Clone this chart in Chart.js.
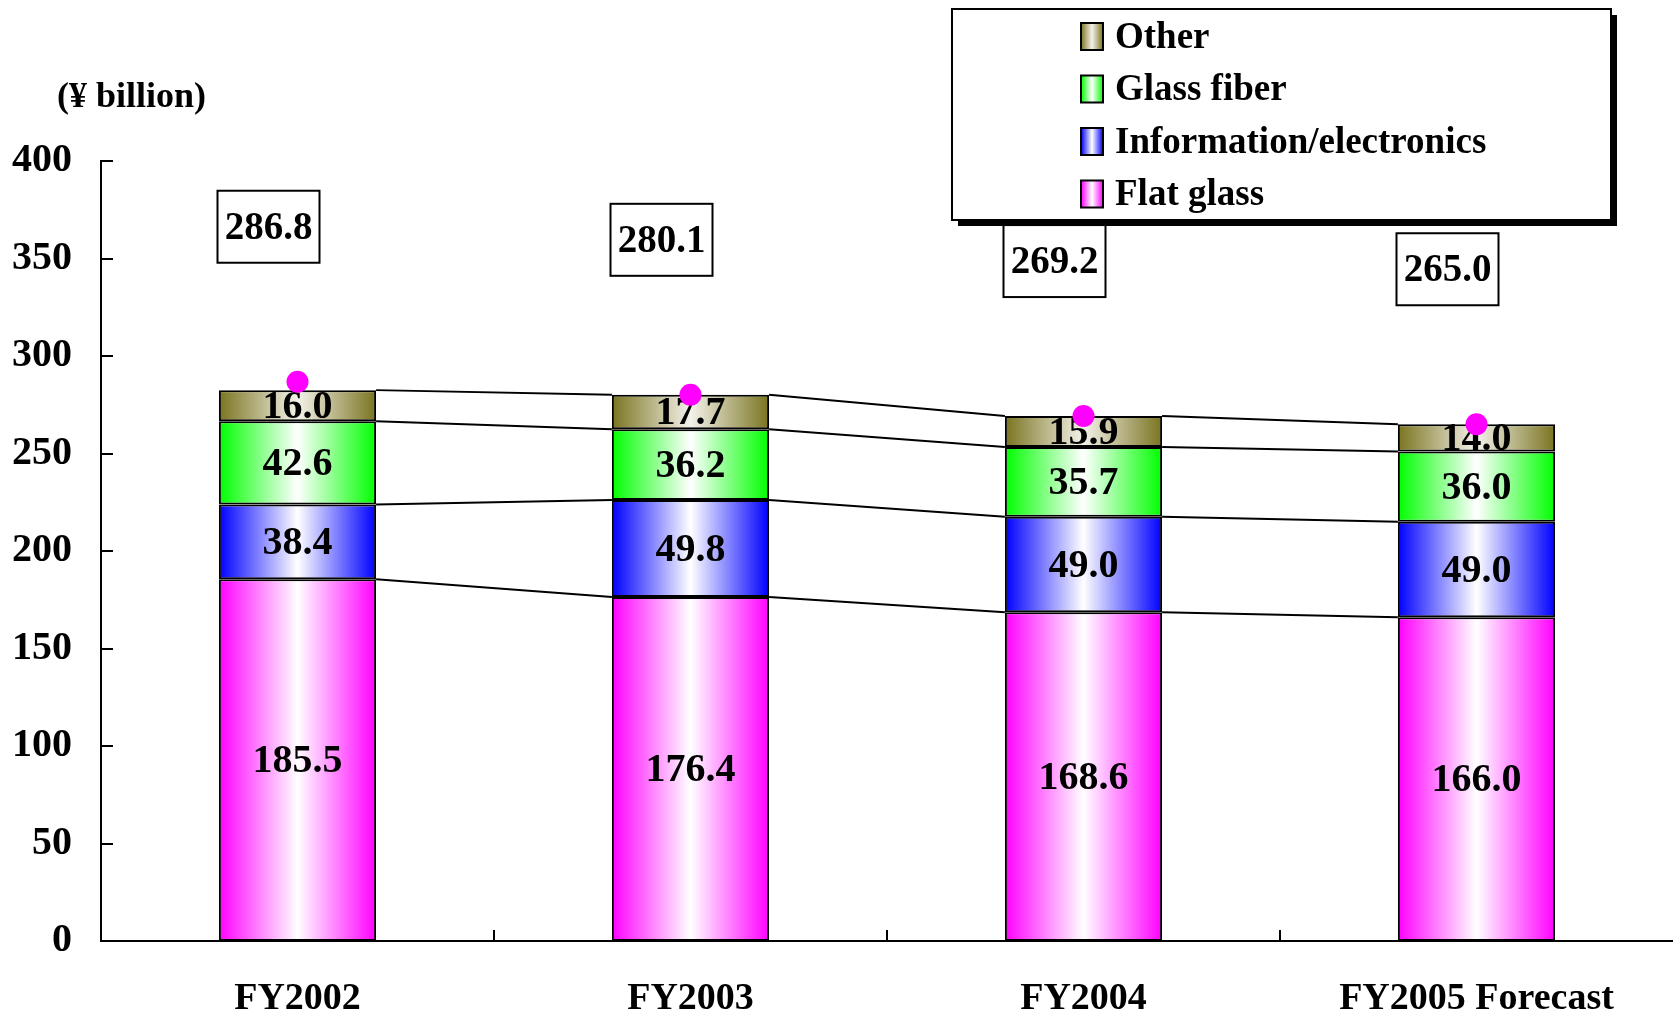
<!DOCTYPE html>
<html>
<head>
<meta charset="utf-8">
<script src="https://cdn.jsdelivr.net/npm/chart.js@4.4.1/dist/chart.umd.min.js"></script>
<style>
html, body { margin: 0; padding: 0; background: #fff; overflow: hidden; }
canvas { display: block; }
</style>
</head>
<body>
<canvas id="myChart" width="1673" height="1014"></canvas>
<script>
// data (¥ billion)
var years = ['FY2002', 'FY2003', 'FY2004', 'FY2005 Forecast'];
var flatGlass = [185.5, 176.4, 168.6, 166.0];
var infoElec = [38.4, 49.8, 49.0, 49.0];
var glassFiber = [42.6, 36.2, 35.7, 36.0];
var other = [16.0, 17.7, 15.9, 14.0];
var totals = [286.8, 280.1, 269.2, 265.0];

var FONT = "'Liberation Serif', 'Times New Roman', serif";
var BAR_PCT = 0.4;

// horizontal gradient: colour at the edges, white in the middle
function makeGrad(ctx2d, x0, x1, color, light) {
	var g = ctx2d.createLinearGradient(x0, 0, x1, 0);
	g.addColorStop(0, color);
	g.addColorStop(0.5, light);
	g.addColorStop(1, color);
	return g;
}

function barFill(color, light) {
	return function(c) {
		var chart = c.chart;
		var x = chart.scales && chart.scales.x;
		if (!x || c.dataIndex === undefined) return color;
		var cx = x.getPixelForValue(c.dataIndex);
		var w = (x.width / years.length) * BAR_PCT;
		if (!isFinite(cx) || !isFinite(w) || w <= 0) return color;
		return makeGrad(chart.ctx, cx - w / 2, cx + w / 2, color, light);
	};
}

var series = [
	{ label: 'Flat glass', data: flatGlass, color: '#ff00ff', light: '#ffffff' },
	{ label: 'Information/electronics', data: infoElec, color: '#0000ff', light: '#ffffff' },
	{ label: 'Glass fiber', data: glassFiber, color: '#00ff00', light: '#ffffff' },
	{ label: 'Other', data: other, color: '#7a7420', light: '#f4f2ea' }
];

var datasets = series.map(function(s) {
	return {
		type: 'bar',
		label: s.label,
		data: s.data,
		backgroundColor: barFill(s.color, s.light),
		borderColor: '#000',
		borderWidth: 2,
		borderSkipped: false,
		categoryPercentage: 1,
		barPercentage: BAR_PCT,
		order: 1,
		stack: 'seg'
	};
});

datasets.push({
	type: 'line',
	label: 'Total',
	data: totals,
	showLine: false,
	pointRadius: 11,
	pointHoverRadius: 11,
	pointBackgroundColor: '#ff00ff',
	pointBorderWidth: 0,
	borderColor: '#ff00ff',
	order: 0,
	stack: 'total'
});

var decor = {
	id: 'decor',
	beforeDatasetsDraw: function(chart) {
		// connecting lines between stack boundaries
		var ctx = chart.ctx;
		ctx.save();
		ctx.strokeStyle = '#000';
		ctx.lineWidth = 2;
		for (var d = 0; d < series.length; d++) {
			var bars = chart.getDatasetMeta(d).data;
			for (var i = 0; i < bars.length - 1; i++) {
				var a = bars[i], b = bars[i + 1];
				ctx.beginPath();
				ctx.moveTo(a.x + a.width / 2, a.y);
				ctx.lineTo(b.x - b.width / 2, b.y);
				ctx.stroke();
			}
		}
		ctx.restore();
	},
	afterDatasetDraw: function(chart, args) {
		// segment values, drawn once the last bar dataset is done (under the dots)
		if (args.index !== 0) return;
		var ctx = chart.ctx;
		ctx.save();
		ctx.fillStyle = '#000';
		ctx.font = 'bold 40px ' + FONT;
		ctx.textAlign = 'center';
		ctx.textBaseline = 'middle';
		for (var d = 0; d < series.length; d++) {
			chart.getDatasetMeta(d).data.forEach(function(bar, i) {
				ctx.fillText(series[d].data[i].toFixed(1), bar.x, (bar.y + bar.base) / 2 + 2);
			});
		}
		ctx.restore();
	},
	afterDatasetsDraw: function(chart) {
		// total boxes
		var ctx = chart.ctx;
		var pts = chart.getDatasetMeta(series.length).data;
		ctx.save();
		ctx.font = 'bold 39px ' + FONT;
		ctx.textAlign = 'center';
		ctx.textBaseline = 'middle';
		pts.forEach(function(p, i) {
			var cx = p.x - 29, cy = p.y - 155;
			ctx.fillStyle = '#fff';
			ctx.fillRect(cx - 51, cy - 36, 102, 72);
			ctx.strokeStyle = '#000';
			ctx.lineWidth = 2;
			ctx.strokeRect(cx - 51, cy - 36, 102, 72);
			ctx.fillStyle = '#000';
			ctx.fillText(totals[i].toFixed(1), cx, cy + 2);
		});
		ctx.restore();
	},
	afterDraw: function(chart) {
		var ctx = chart.ctx;
		var area = chart.chartArea;
		var ys = chart.scales.y, xs = chart.scales.x;
		ctx.save();
		ctx.strokeStyle = '#000';
		ctx.lineWidth = 2;
		// inner tick marks on the value axis
		ys.ticks.forEach(function(t) {
			var y = Math.round(ys.getPixelForValue(t.value));
			ctx.beginPath();
			ctx.moveTo(area.left, y);
			ctx.lineTo(area.left + 12, y);
			ctx.stroke();
		});
		// category boundary ticks
		for (var i = 1; i < years.length; i++) {
			var x = Math.round((xs.getPixelForValue(i - 1) + xs.getPixelForValue(i)) / 2);
			ctx.beginPath();
			ctx.moveTo(x, area.bottom);
			ctx.lineTo(x, area.bottom - 11);
			ctx.stroke();
		}
		// unit label
		ctx.fillStyle = '#000';
		ctx.font = 'bold 36px ' + FONT;
		ctx.textAlign = 'left';
		ctx.textBaseline = 'middle';
		ctx.fillText('(¥ billion)', 57, 98);

		// legend box with shadow
		var lx = 952, ly = 9, lw = 659, lh = 211;
		ctx.fillStyle = '#000';
		ctx.fillRect(lx + 6, ly + 6, lw, lh);
		ctx.fillStyle = '#fff';
		ctx.fillRect(lx, ly, lw, lh);
		ctx.strokeRect(lx, ly, lw, lh);
		ctx.font = 'bold 37px ' + FONT;
		for (var k = 0; k < series.length; k++) {
			var s = series[series.length - 1 - k];
			var cy = 37 + k * 52.5;
			ctx.fillStyle = makeGrad(ctx, 1081, 1103, s.color, s.light);
			ctx.fillRect(1081, cy - 14, 22, 27);
			ctx.strokeRect(1081, cy - 14, 22, 27);
			ctx.fillStyle = '#000';
			ctx.fillText(s.label, 1115, cy + 1);
		}
		ctx.restore();
	}
};

var ctx = document.getElementById('myChart').getContext('2d');
var myChart = new Chart(ctx, {
	data: {
		labels: years,
		datasets: datasets
	},
	options: {
		responsive: false,
		animation: false,
		layout: { autoPadding: false, padding: { top: 161, right: 0, bottom: 0, left: 0 } },
		plugins: {
			legend: { display: false },
			tooltip: { enabled: false }
		},
		scales: {
			x: {
				stacked: true,
				grid: { display: false, drawTicks: false },
				border: { display: true, color: '#000', width: 2 },
				ticks: {
					color: '#000',
					font: { family: FONT, size: 38, weight: 'bold', lineHeight: 1 },
					padding: 39,
					maxRotation: 0,
					autoSkip: false
				},
				afterFit: function(s) {
					s.height = 73;
					s.paddingLeft = 0;
					s.paddingRight = 0;
				}
			},
			y: {
				stacked: true,
				min: 0,
				max: 400,
				grid: { display: false, drawTicks: false },
				border: { display: true, color: '#000', width: 2 },
				ticks: {
					stepSize: 50,
					color: '#000',
					font: { family: FONT, size: 40, weight: 'bold' },
					padding: 29
				},
				afterFit: function(s) { s.width = 101; }
			}
		}
	},
	plugins: [decor]
});
</script>
</body>
</html>
